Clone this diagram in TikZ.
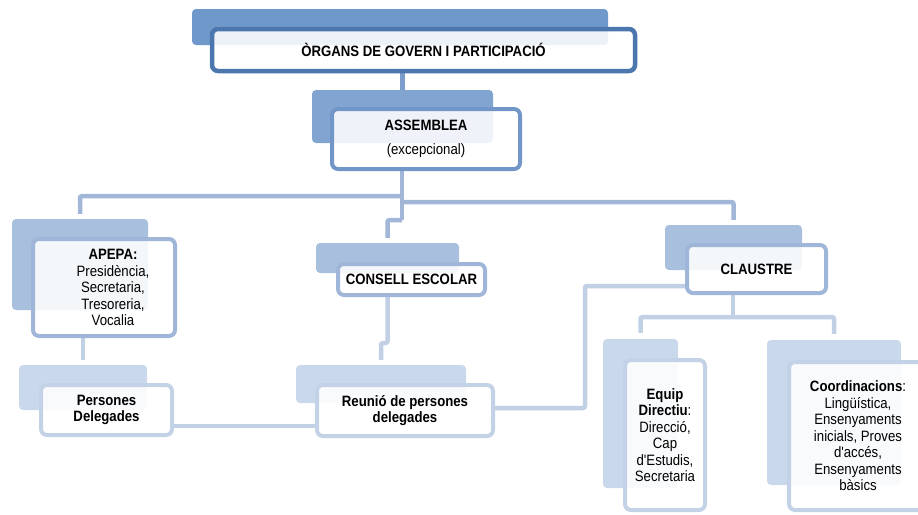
\documentclass[tikz,border=0pt]{standalone}
\usepackage{fontspec}
\setmainfont{Liberation Sans}[FakeStretch=0.88, Ligatures=TeXOff]
\definecolor{backA}{HTML}{7099CB}
\definecolor{backB}{HTML}{81A4D0}
\definecolor{backC}{HTML}{A8BFDE}
\definecolor{backD}{HTML}{C9D8EB}
\definecolor{lineA}{HTML}{4B76AE}
\definecolor{lineB}{HTML}{7396C8}
\definecolor{lineC}{HTML}{A0B6D8}
\definecolor{lineD}{HTML}{C4D2E7}
\definecolor{connA}{HTML}{7C9DCC}
\definecolor{connB}{HTML}{A2B7D8}
\definecolor{connC}{HTML}{C2D0E6}
\pgfdeclarelayer{bg}
\pgfsetlayers{bg,main}
\tikzset{
  sz/.style 2 args={minimum width=#1pt, minimum height=#2pt},
  backbox/.style={fill=#1, draw=none, rounded corners=4pt, inner sep=0pt},
  txt/.style={align=center, inner sep=0pt, font=\fontsize{15}{16.5}\selectfont},
  frontbox/.style={draw=#1, fill=white, fill opacity=0.88, text opacity=1,
    rounded corners=6pt, line width=4pt, txt},
  conn/.style={draw=#1, line width=4.5pt, rounded corners=2pt, line join=round},
}
\begin{document}
\begin{tikzpicture}[x=1pt,y=-1pt]
\useasboundingbox (0,0) rectangle (918,514);

% top
\node[backbox=backA, sz={416}{36}] (topB) at (400,27) {};
\node[frontbox=lineA, line width=4.5pt, sz={423}{42}] (top) at (423.5,50) {\textbf{ÒRGANS DE GOVERN I PARTICIPACIÓ}};

% assemblea
\node[backbox=backB, sz={181}{53}] (assemB) at (402.5,116.5) {};
\node[frontbox=lineB, sz={188}{60}] (assem) at (426,139) {\textbf{ASSEMBLEA}\\[7pt](excepcional)};

% apepa
\node[backbox=backC, sz={136}{91}] (apepaB) at (80,264.5) {};
\node[frontbox=lineC, sz={142}{97}] (apepa) at (104,287.5) {};
\node[txt] (apepaT) at (113,287.5)
  {\textbf{APEPA:}\\Presidència,\\Secretaria,\\Tresoreria,\\Vocalia};

% consell escolar
\node[backbox=backC, sz={143}{30}] (conselB) at (387.5,258) {};
\node[frontbox=lineC, sz={147}{31}] (consel) at (411.5,279.5) {\textbf{CONSELL ESCOLAR}};

% claustre
\node[backbox=backC, sz={137}{45}] (claustreB) at (733.5,247.5) {};
\node[frontbox=lineC, sz={139}{48}] (claustre) at (756.5,269) {\textbf{CLAUSTRE}};

% persones delegades
\node[backbox=backD, sz={128}{45}] (persB) at (83,387.5) {};
\node[frontbox=lineD, sz={131}{50}] (pers) at (106.5,410) {\textbf{Persones}\\\textbf{Delegades}};

% reunio
\node[backbox=backD, sz={170}{38}] (reuB) at (381,384) {};
\node[frontbox=lineD, sz={176}{51}] (reu) at (405,410.5) {\textbf{Reunió de persones}\\\textbf{delegades}};

% equip directiu
\node[backbox=backD, sz={75}{149}] (equipB) at (640.5,413.5) {};
\node[frontbox=lineD, sz={80}{150}] (equip) at (665,435) {\textbf{Equip}\\\textbf{Directiu}:\\Direcció,\\Cap\\d'Estudis,\\Secretaria};

% coordinacions
\node[backbox=backD, sz={134}{145}] (coordB) at (834,412.5) {};
\node[frontbox=lineD, sz={138}{148}] (coord) at (858,436) {\textbf{Coordinacions}:\\Lingüística,\\Ensenyaments\\inicials, Proves\\d'accés,\\Ensenyaments\\bàsics};

% junction coordinates
\coordinate (j0) at (402,0);
\coordinate (jL) at (402,196);
\coordinate (jR) at (402,202);
\coordinate (jC) at (402,220);
\coordinate (jP) at (0,426);
\coordinate (jQ) at (585,408);
\coordinate (jS) at (600,286);
\coordinate (jK) at (733,317);

\begin{pgfonlayer}{bg}
\draw[conn=connA, line width=5pt] (top.south -| j0) -- (assemB.north -| j0);
\draw[conn=connB] (assem.south -| j0) -- (jC);
\draw[conn=connB, shorten >=5pt] (jL) -| (apepaB.north);
\draw[conn=connB, shorten >=5pt] (jR) -| (claustreB.north);
\draw[conn=connB, shorten >=5pt] (jC) -| (conselB.north);
\draw[conn=connC, shorten >=5pt] (persB.north |- apepa.south) -- (persB.north);
\draw[conn=connC, shorten >=5pt] (consel.south -| conselB) -- ++(0,46) -| (reuB.north);
\draw[conn=connC] (pers.east |- jP) -- (reu.west |- jP);
\draw[conn=connC] (reu.east |- jQ) -- (jQ) |- (claustre.west |- jS);
\draw[conn=connC] (claustre.south -| jK) -- (jK);
\draw[conn=connC, shorten <=6pt, shorten >=6pt] (equipB.north) |- (jK) -| (coordB.north);
\end{pgfonlayer}
\end{tikzpicture}
\end{document}
